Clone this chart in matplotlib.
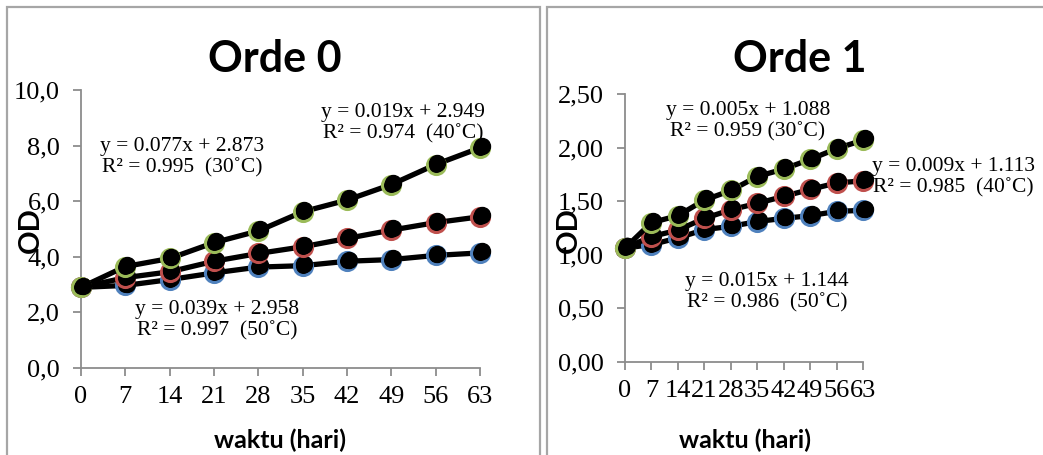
import matplotlib
matplotlib.use('Agg')
import matplotlib.pyplot as plt
from matplotlib.patches import Rectangle
from matplotlib.ticker import FuncFormatter
from matplotlib.transforms import offset_copy

#%% data
waktu = [0, 7, 14, 21, 28, 35, 42, 49, 56, 63]

# orde 0 (OD)
od0_blue = [2.90, 2.97, 3.18, 3.42, 3.63, 3.68, 3.84, 3.90, 4.05, 4.14]
od0_red = [2.90, 3.25, 3.46, 3.84, 4.12, 4.36, 4.66, 4.96, 5.23, 5.44]
od0_green = [2.90, 3.65, 3.94, 4.51, 4.93, 5.62, 6.04, 6.60, 7.32, 7.92]

# orde 1 (ln OD)
od1_blue = [1.063, 1.095, 1.157, 1.235, 1.265, 1.31, 1.34, 1.365, 1.405, 1.415]
od1_red = [1.063, 1.17, 1.23, 1.34, 1.42, 1.48, 1.545, 1.61, 1.67, 1.69]
od1_green = [1.063, 1.30, 1.365, 1.51, 1.60, 1.73, 1.80, 1.89, 1.99, 2.07]

eq0 = ['y = 0.019x + 2.949\nR\u00b2 = 0.974  (40\u02daC)',
       'y = 0.077x + 2.873\nR\u00b2 = 0.995  (30\u02daC)',
       'y = 0.039x + 2.958\nR\u00b2 = 0.997  (50\u02daC)']
eq1 = ['y = 0.005x + 1.088\nR\u00b2 = 0.959 (30\u02daC)',
       'y = 0.009x + 1.113\nR\u00b2 = 0.985  (40\u02daC)',
       'y = 0.015x + 1.144\nR\u00b2 = 0.986  (50\u02daC)']

colors = ['#4f81bd', '#c0504d', '#9bbb59']

W, H = 1043, 455
serif = ['Liberation Serif', 'DejaVu Serif']

#%% functions
def fx(px):
    return px / W

def fy(py):
    return 1 - py / H

def make_axes(fig, left, right, top, bottom):
    ax = fig.add_axes([fx(left), fy(bottom), fx(right - left), fy(top) - fy(bottom)])
    for s in ['top', 'right']:
        ax.spines[s].set_visible(False)
    for s in ['left', 'bottom']:
        ax.spines[s].set_color('#8c8c8c')
        ax.spines[s].set_linewidth(1.3)
    ax.tick_params(axis='both', colors='#8c8c8c', length=6, width=1.3,
                   direction='out', labelcolor='black', labelsize=19)
    ax.tick_params(axis='y', pad=9)
    ax.tick_params(axis='x', pad=7)
    ax.patch.set_alpha(0)
    return ax

def plot_series(ax, series):
    # black dot sits slightly up-right of the coloured ring
    shifted = offset_copy(ax.transData, fig=ax.figure, x=1.2, y=1.2, units='points')
    for ys, c in zip(series, colors):
        ax.plot(waktu, ys, color='black', lw=3.8, zorder=3, clip_on=False,
                marker='o', ms=13, mfc='black', mec=c, mew=2.2)
        ax.plot(waktu, ys, ls='none', zorder=3, clip_on=False, transform=shifted,
                marker='o', ms=11.5, mfc='black', mec='black')

#%% figure
fig = plt.figure(figsize=(W / 100, H / 100), dpi=100)

# panel borders
fig.patches.append(Rectangle((fx(7), fy(470)), fx(540 - 7), fy(7) - fy(470),
                             transform=fig.transFigure, fill=False,
                             edgecolor='#a6a6a6', lw=1.6))
fig.patches.append(Rectangle((fx(547), fy(470)), fx(1060 - 547), fy(7) - fy(470),
                             transform=fig.transFigure, fill=False,
                             edgecolor='#a6a6a6', lw=1.6))

# Orde 0
ax0 = make_axes(fig, 81, 480, 90, 368)
plot_series(ax0, [od0_blue, od0_red, od0_green])
ax0.set_xlim(0, 63)
ax0.set_ylim(0, 10)
ax0.set_xticks(waktu)
ax0.set_yticks([0, 2, 4, 6, 8, 10])
ax0.yaxis.set_major_formatter(FuncFormatter(lambda v, p: '{:.1f}'.format(v).replace('.', ',')))
for lab in ax0.get_xticklabels() + ax0.get_yticklabels():
    lab.set_family(serif)

fig.text(fx(275), fy(59), 'Orde 0', ha='center', va='center',
         fontsize=31, fontweight='bold', family='Lato')
fig.text(fx(31), fy(230), 'OD', ha='center', va='center', rotation=90,
         fontsize=21, fontweight='bold', family='Lato')
fig.text(fx(280), fy(440), 'waktu (hari)', ha='center', va='center',
         fontsize=18, fontweight='bold', family='Lato')

for txt, (px, py) in zip(eq0, [(403, 123), (182, 157), (217, 320)]):
    fig.text(fx(px), fy(py), txt, ha='center', va='center', fontsize=15.5,
             family=serif, linespacing=1.15)

# Orde 1
ax1 = make_axes(fig, 625, 863, 94, 362)
plot_series(ax1, [od1_blue, od1_red, od1_green])
ax1.set_xlim(0, 63)
ax1.set_ylim(0, 2.5)
ax1.set_xticks(waktu)
ax1.set_yticks([0, 0.5, 1.0, 1.5, 2.0, 2.5])
ax1.yaxis.set_major_formatter(FuncFormatter(lambda v, p: '{:.2f}'.format(v).replace('.', ',')))
for lab in ax1.get_xticklabels() + ax1.get_yticklabels():
    lab.set_family(serif)

fig.text(fx(800), fy(59), 'Orde 1', ha='center', va='center',
         fontsize=31, fontweight='bold', family='Lato')
fig.text(fx(569), fy(230), 'OD', ha='center', va='center', rotation=90,
         fontsize=21, fontweight='bold', family='Lato')
fig.text(fx(745), fy(440), 'waktu (hari)', ha='center', va='center',
         fontsize=18, fontweight='bold', family='Lato')

for txt, (px, py) in zip(eq1, [(748, 121), (953, 177), (767, 292)]):
    fig.text(fx(px), fy(py), txt, ha='center', va='center', fontsize=15.5,
             family=serif, linespacing=1.15)

plt.savefig('out.png', dpi=100)
